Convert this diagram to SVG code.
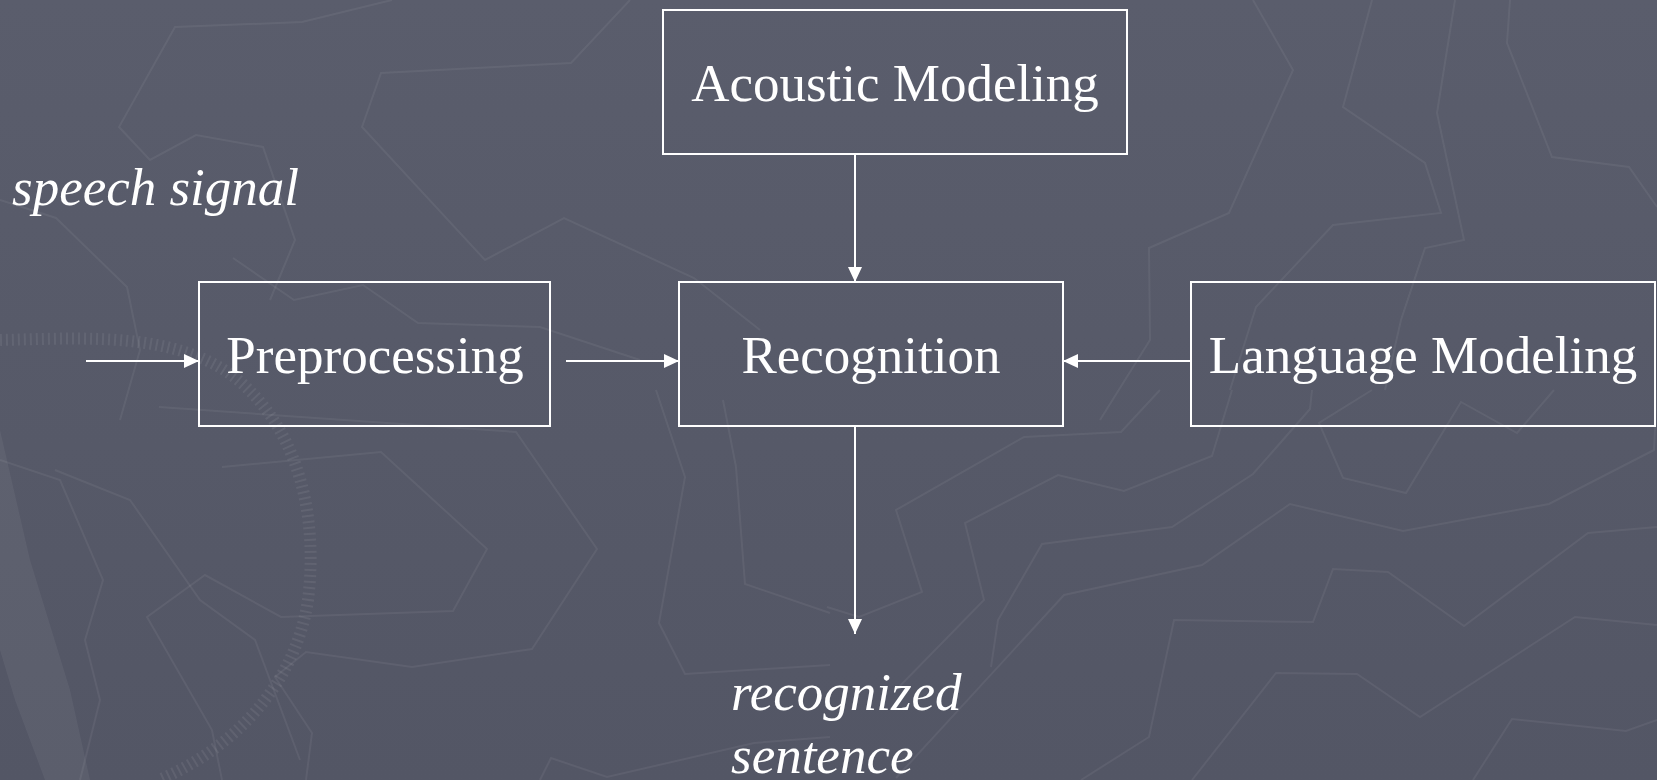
<svg xmlns="http://www.w3.org/2000/svg" width="1657" height="780" viewBox="0 0 1657 780">
  <defs>
    <linearGradient id="bg" x1="0" y1="0" x2="0" y2="1">
      <stop offset="0" stop-color="#5a5d6c"/>
      <stop offset="1" stop-color="#535665"/>
    </linearGradient>
    <marker id="arrow" markerUnits="userSpaceOnUse" markerWidth="15" markerHeight="14" refX="15" refY="7" orient="auto">
      <path d="M0,0 L15,7 L0,14 z" fill="#ffffff"/>
    </marker>
    <style>
      .deco { fill: none; stroke: #ffffff; stroke-opacity: 0.06; stroke-width: 2; stroke-linejoin: miter; }
      .box { fill: none; stroke: #ffffff; stroke-width: 2; }
      .label { font-family: "Liberation Serif", "Times New Roman", serif; font-size: 53px; fill: #ffffff; text-anchor: middle; }
      .ital { font-family: "Liberation Serif", "Times New Roman", serif; font-size: 53px; font-style: italic; fill: #ffffff; }
      .conn { stroke: #ffffff; stroke-width: 2; fill: none; marker-end: url(#arrow); }
    </style>
  </defs>

  <!-- background -->
  <rect x="0" y="0" width="1657" height="780" fill="url(#bg)"/>
  <g id="background-decoration">
    <polygon points="0,430 30,560 70,690 90,780 45,780 15,700 0,650" fill="#ffffff" fill-opacity="0.05"/>
    <path d="M0,340 C90,338 190,330 249,390 C300,440 318,520 308,600 C296,680 240,745 159,780" fill="none" stroke="#ffffff" stroke-opacity="0.07" stroke-width="12" stroke-dasharray="2 4"/>
    <polyline class="deco" points="1160,390 1121,432 1024,437 896,510 922,592 859,617 827,607"/>
    <polyline class="deco" points="1232,390 1212,456 1124,491 1058,475 965,523 984,600 896,690"/>
    <polyline class="deco" points="1312,390 1310,409 1253,474 1172,527 1042,544 998,620 991,667"/>
    <polyline class="deco" points="1657,390 1654,450 1549,504 1403,531 1290,504 1202,565 1064,595 896,778"/>
    <polyline class="deco" points="1372,390 1319,423 1343,478 1406,493 1461,402 1517,433 1554,390"/>
    <polyline class="deco" points="1081,780 1149,737 1174,620 1313,622 1333,569 1388,572 1464,626 1588,533 1657,527"/>
    <polyline class="deco" points="1192,780 1276,673 1357,674 1420,717 1575,617 1657,625"/>
    <polyline class="deco" points="1473,780 1512,719 1626,731 1657,720"/>
    <polyline class="deco" points="222,467 381,452 487,549 453,611 281,617 205,575 147,617 212,730 222,780"/>
    <polyline class="deco" points="159,407 516,432 597,549 532,649 412,667 306,652 275,677 312,733 306,780"/>
    <polyline class="deco" points="656,390 685,477 659,623 685,674 830,665"/>
    <polyline class="deco" points="723,400 736,467 745,584 830,613"/>
    <polyline class="deco" points="540,780 551,758 607,777 754,743 830,737"/>
    <polyline class="deco" points="392,0 302,22 175,27 119,127 150,160 196,135 263,147 295,240 270,300"/>
    <polyline class="deco" points="630,0 571,63 381,73 362,127 485,260 564,218 694,278 760,330"/>
    <polyline class="deco" points="233,258 294,300 363,285 418,323 540,327 640,360"/>
    <polyline class="deco" points="0,200 56,218 127,287 140,350 120,420"/>
    <polyline class="deco" points="1253,0 1293,70 1229,213 1149,248 1150,340 1100,420"/>
    <polyline class="deco" points="1372,0 1343,107 1425,163 1441,213 1333,225 1256,307 1230,390"/>
    <polyline class="deco" points="1510,0 1507,43 1552,157 1629,167 1657,207"/>
    <polyline class="deco" points="1455,0 1447,50 1437,113 1464,240 1425,248 1401,320 1385,390"/>
    <polyline class="deco" points="55,470 130,500 200,600 255,640 300,760"/>
    <polyline class="deco" points="0,460 60,480 103,580 85,640 100,700 80,780"/>
  </g>

  <!-- connectors -->
  <g id="connectors">
    <line class="conn" x1="86" y1="361" x2="199" y2="361"/>
    <line class="conn" x1="566" y1="361" x2="679" y2="361"/>
    <line class="conn" x1="855" y1="154" x2="855" y2="282"/>
    <line class="conn" x1="1191" y1="361" x2="1063" y2="361"/>
    <line class="conn" x1="855" y1="426" x2="855" y2="634"/>
  </g>

  <!-- nodes -->
  <g id="speech-signal">
    <text class="ital" x="12" y="205">speech signal</text>
  </g>
  <g id="acoustic-modeling">
    <rect class="box" x="663" y="10" width="464" height="144"/>
    <text class="label" x="895" y="101">Acoustic Modeling</text>
  </g>
  <g id="preprocessing">
    <rect class="box" x="199" y="282" width="351" height="144"/>
    <text class="label" x="375" y="373">Preprocessing</text>
  </g>
  <g id="recognition">
    <rect class="box" x="679" y="282" width="384" height="144"/>
    <text class="label" x="871" y="373">Recognition</text>
  </g>
  <g id="language-modeling">
    <rect class="box" x="1191" y="282" width="464" height="144"/>
    <text class="label" x="1423" y="373">Language Modeling</text>
  </g>
  <g id="recognized-sentence">
    <text class="ital" x="731" y="710">recognized</text>
    <text class="ital" x="731" y="773">sentence</text>
  </g>
</svg>
